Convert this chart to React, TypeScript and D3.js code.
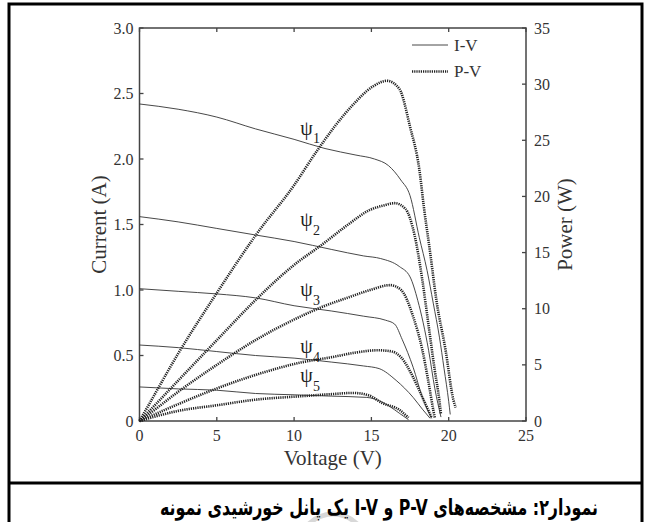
import React from 'react';
import * as d3 from 'd3';

// ── data ───────────────────────────────────────────────────────────────
const xTicks = [0, 5, 10, 15, 20, 25];
const iTicks = [0, 0.5, 1, 1.5, 2, 2.5, 3];
const iTickLabels = ['0', '0.5', '1.0', '1.5', '2.0', '2.5', '3.0'];
const pTicks = [0, 5, 10, 15, 20, 25, 30, 35];

// I-V curves (voltage V, current A)
const ivV1 = [0, 2.5, 5, 7.5, 10, 12, 14, 15.2, 16.1, 16.9, 17.5, 18.1, 18.6, 19.0, 19.4, 19.7, 20.0, 20.1];
const ivI1 = [2.42, 2.38, 2.32, 2.23, 2.15, 2.08, 2.03, 2.0, 1.95, 1.84, 1.72, 1.4, 1.15, 0.9, 0.64, 0.4, 0.15, 0.05];
const ivV2 = [0, 2.5, 5, 7.5, 10, 12.4, 14.5, 15.6, 16.8, 17.5, 18.0, 18.7, 19.1, 19.5];
const ivI2 = [1.56, 1.52, 1.47, 1.42, 1.37, 1.31, 1.26, 1.24, 1.18, 1.1, 0.92, 0.54, 0.25, 0.03];
const ivV3 = [0, 2.5, 5, 7.5, 10, 12.4, 14.5, 15.9, 16.5, 17.0, 17.7, 18.3, 18.9];
const ivI3 = [1.01, 0.99, 0.97, 0.94, 0.88, 0.84, 0.8, 0.77, 0.74, 0.62, 0.41, 0.18, 0.02];
const ivV4 = [0, 2.5, 5, 7.5, 10, 12.4, 14.5, 15.5, 16.6, 17.7, 18.3, 18.8];
const ivI4 = [0.58, 0.56, 0.53, 0.5, 0.48, 0.45, 0.42, 0.4, 0.31, 0.18, 0.09, 0.02];
const ivV5 = [0, 2.5, 5, 7.5, 10, 12.4, 14.7, 15.6, 16.2, 16.8, 17.4];
const ivI5 = [0.26, 0.245, 0.235, 0.21, 0.2, 0.19, 0.18, 0.15, 0.11, 0.06, 0.01];

// P-V curves (voltage V, power W)
const pvV1 = [0, 0.5, 2.5, 5, 7.6, 10, 11.5, 13.7, 15.1, 16.0, 16.8, 17.5, 18.1, 18.4, 18.8, 19.2, 19.8, 20.3, 20.45];
const pvP1 = [0, 1.2, 6.0, 11.4, 16.7, 21.0, 24.1, 28.0, 29.8, 30.3, 29.6, 26.2, 22.4, 19.0, 15.0, 10.8, 6.3, 1.9, 1.2];
const pvV2 = [0, 0.5, 2.5, 5, 7.6, 10, 11.8, 13.5, 14.9, 15.8, 16.5, 17.2, 17.8, 18.3, 18.7, 19.1, 19.4, 19.5];
const pvP2 = [0, 0.7, 3.6, 7.2, 10.9, 13.9, 15.7, 17.5, 18.8, 19.2, 19.4, 18.9, 16.5, 12.5, 8.5, 4.5, 1.8, 0.6];
const pvV3 = [0, 0.5, 2.5, 5, 7.5, 10.4, 11.7, 13.5, 15, 16.2, 16.9, 17.7, 18.3, 18.7, 19.0, 19.1];
const pvP3 = [0, 0.5, 2.6, 5.0, 7.2, 9.3, 10.1, 11.0, 11.7, 12.1, 11.7, 9.3, 6.3, 3.4, 1.0, 0.3];
const pvV4 = [0, 0.5, 2.5, 5, 7.5, 10.4, 12.5, 14, 15.4, 16.3, 16.9, 17.7, 18.3, 18.9];
const pvP4 = [0, 0.3, 1.5, 2.9, 4.1, 5.2, 5.7, 6.1, 6.3, 6.2, 5.7, 3.9, 2.1, 0.3];
const pvV5 = [0, 0.5, 2.5, 5, 7.5, 10.4, 12.5, 13.8, 14.8, 15.7, 16.8, 17.4];
const pvP5 = [0, 0.2, 0.9, 1.4, 1.9, 2.2, 2.4, 2.5, 2.3, 1.6, 1.0, 0.3];

// ψ labels: position in (voltage, current)
const psiNames = ['1', '2', '3', '4', '5'];
const psiV = [10.8, 10.8, 10.8, 10.8, 10.8];
const psiI = [2.24, 1.54, 1.01, 0.57, 0.35];

const legendLabels = ['I-V', 'P-V'];
const caption = 'نمودار۲: مشخصه‌های P-V و I-V یک پانل خورشیدی نمونه';

const ivSeries = [
  [ivV1, ivI1], [ivV2, ivI2], [ivV3, ivI3], [ivV4, ivI4], [ivV5, ivI5],
];
const pvSeries = [
  [pvV1, pvP1], [pvV2, pvP2], [pvV3, pvP3], [pvV4, pvP4], [pvV5, pvP5],
];

const SERIF = '"Liberation Serif", "Times New Roman", serif';

export default function App() {
  const W = 651, H = 522;
  const left = 139.5, right = 526, top = 28, bottom = 421;

  const x = d3.scaleLinear().domain([0, 25]).range([left, right]);
  const yI = d3.scaleLinear().domain([0, 3]).range([bottom, top]);
  const yP = d3.scaleLinear().domain([0, 35]).range([bottom, top]);

  const pts = (vs: number[], ys: number[]) => vs.map((v, i) => [v, ys[i]] as [number, number]);
  const ivLine = d3.line<[number, number]>().x(d => x(d[0])).y(d => yI(d[1])).curve(d3.curveMonotoneX);
  const pvLine = d3.line<[number, number]>().x(d => x(d[0])).y(d => yP(d[1])).curve(d3.curveMonotoneX);

  const tickLen = 4;
  const axisColor = '#444';
  const txt = '#333';

  return (
    <svg width={W} height={H} style={{ position: 'absolute', left: 0, top: 0, background: '#fff' }}
      fontFamily={SERIF}>
      {/* outer frame + divider */}
      <rect x={9} y={4} width={633} height={540} fill="none" stroke="#000" strokeWidth={3} />
      <line x1={9} x2={642} y1={483} y2={483} stroke="#000" strokeWidth={3} />

      {/* faint watermark arc */}
      <circle cx={333} cy={548} r={34} fill="none" stroke="#d8d8d8" strokeWidth={5} />

      {/* plot box */}
      <rect x={left} y={top} width={right - left} height={bottom - top} fill="none" stroke={axisColor} strokeWidth={1.5} />

      {/* left ticks */}
      {iTicks.map((t, i) => (
        <g key={'il' + t}>
          <line x1={left} x2={left + tickLen} y1={yI(t)} y2={yI(t)} stroke={axisColor} strokeWidth={1.3} />
          <text x={left - 6} y={yI(t)} dy="0.35em" textAnchor="end" fontSize={16} fill={txt}>{iTickLabels[i]}</text>
        </g>
      ))}
      {/* right ticks */}
      {pTicks.map(t => (
        <g key={'pr' + t}>
          <line x1={right} x2={right - tickLen} y1={yP(t)} y2={yP(t)} stroke={axisColor} strokeWidth={1.3} />
          <text x={right + 8} y={yP(t)} dy="0.35em" textAnchor="start" fontSize={16} fill={txt}>{t}</text>
        </g>
      ))}
      {/* bottom + top ticks */}
      {xTicks.map(t => (
        <g key={'x' + t}>
          <line x1={x(t)} x2={x(t)} y1={bottom} y2={bottom - tickLen} stroke={axisColor} strokeWidth={1.3} />
          <line x1={x(t)} x2={x(t)} y1={top} y2={top + tickLen} stroke={axisColor} strokeWidth={1.3} />
          <text x={x(t)} y={bottom + 14} dy="0.35em" textAnchor="middle" fontSize={16} fill={txt}>{t}</text>
        </g>
      ))}

      {/* axis titles */}
      <text transform={`translate(99,${(top + bottom) / 2}) rotate(-90)`} textAnchor="middle" dy="0.35em" fontSize={21} fill={txt}>Current (A)</text>
      <text transform={`translate(565,${(top + bottom) / 2}) rotate(-90)`} textAnchor="middle" dy="0.35em" fontSize={21} fill={txt}>Power (W)</text>
      <text x={(left + right) / 2} y={458} dy="0.35em" textAnchor="middle" fontSize={21} fill={txt}>Voltage (V)</text>

      {/* I-V curves */}
      {ivSeries.map(([vs, is], k) => (
        <path key={'iv' + k} d={ivLine(pts(vs, is)) || ''} fill="none" stroke="#333" strokeWidth={0.9} />
      ))}
      {/* P-V curves */}
      {pvSeries.map(([vs, ps], k) => (
        <path key={'pv' + k} d={pvLine(pts(vs, ps)) || ''} fill="none" stroke="#222" strokeWidth={2.6} strokeDasharray="1.2 1" />
      ))}

      {/* ψ labels */}
      {psiNames.map((n, k) => (
        <g key={'psi' + n} transform={`translate(${x(psiV[k])},${yI(psiI[k])})`}>
          <text x={0} y={0} dy="0.35em" textAnchor="middle" fontSize={20} fill="#222">ψ</text>
          <text x={10} y={11} dy="0.35em" textAnchor="middle" fontSize={14} fill="#222">{n}</text>
        </g>
      ))}

      {/* legend */}
      <g>
        <line x1={412} x2={448} y1={45} y2={45} stroke="#333" strokeWidth={0.9} />
        <text x={454} y={45} dy="0.35em" fontSize={17} fill={txt}>{legendLabels[0]}</text>
        <line x1={412} x2={448} y1={71.5} y2={71.5} stroke="#222" strokeWidth={2.6} strokeDasharray="1.2 1" />
        <text x={454} y={71.5} dy="0.35em" fontSize={17} fill={txt}>{legendLabels[1]}</text>
      </g>

      {/* caption */}
      <text x={379} y={507} dy="0.35em" textAnchor="middle" direction="rtl" fontSize={22} fontWeight="bold"
        textLength={438} lengthAdjust="spacingAndGlyphs"
        fontFamily='"DejaVu Sans", sans-serif' fill="#000">{caption}</text>
    </svg>
  );
}
